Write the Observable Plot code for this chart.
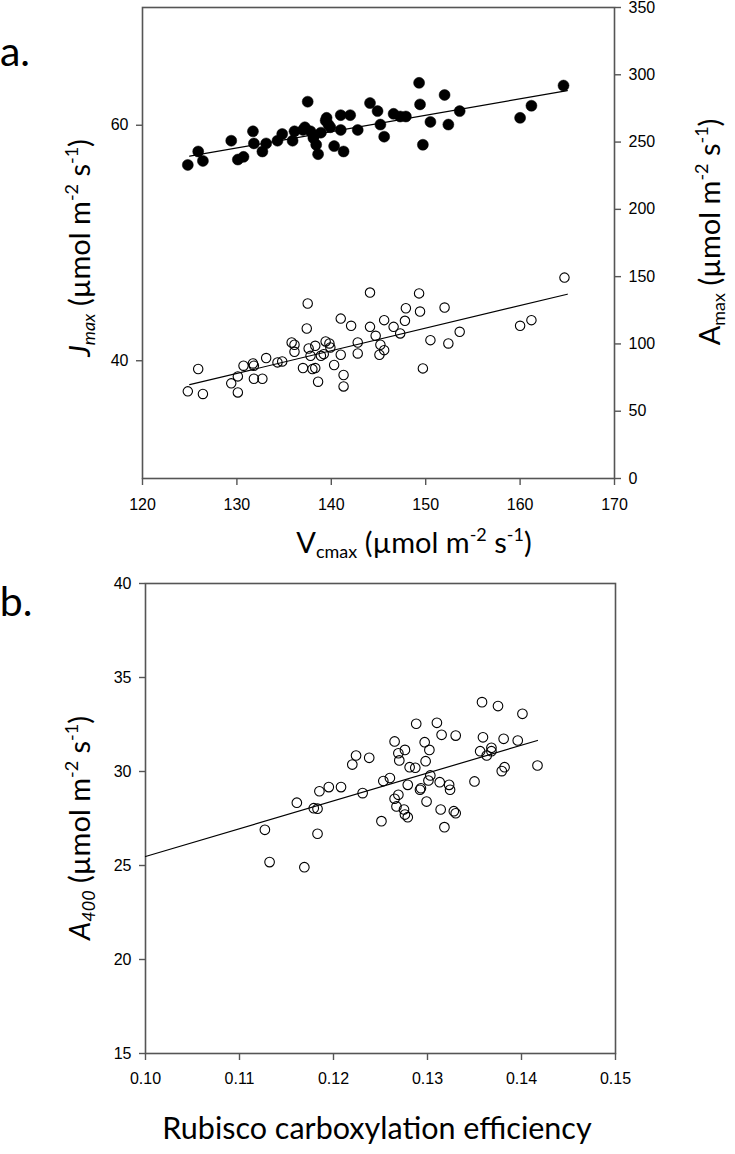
<!DOCTYPE html>
<html>
<head>
<meta charset="utf-8">
<script src="https://cdn.jsdelivr.net/npm/d3@7"></script>
<script src="https://cdn.jsdelivr.net/npm/@observablehq/plot@0.6"></script>
<style>
  body { margin: 0; background: #fff; }
  #wrap { position: relative; width: 735px; height: 1154px; overflow: hidden; background: #fff; }
  #wrap svg { position: absolute; left: 0; }
  .lab { position: absolute; white-space: nowrap; line-height: 1; color: #000;
         font-family: Lato, "Open Sans", "DejaVu Sans", sans-serif; }
  .sup { font-size: 0.62em; vertical-align: 0.62em; line-height: 0; }
  .sub { font-size: 0.62em; vertical-align: -0.28em; line-height: 0; }
</style>
</head>
<body>
<div id="wrap"></div>
<script>
// ---------- Panel a: Vcmax vs Amax (filled, right axis) ----------
const vcmaxFilled = [124.8,125.9,126.4,129.4,130.1,130.7,131.7,131.8,132.7,133.1,134.3,134.8,135.9,136.1,137.0,137.2,137.5,137.8,138.1,138.2,138.4,138.6,138.9,139.4,139.5,139.7,139.9,140.3,141.0,141.0,141.3,142.0,142.8,144.1,144.9,145.2,145.6,146.6,147.3,147.9,149.3,149.4,149.7,150.5,152.0,152.4,153.6,160.0,161.2,164.6];
const amaxFilled  = [233,243,236,251,237,239,258,249,243,249,251,256,251,258,259,261,280,258,253,255,248,241,257,266,268,263,261,247,270,259,243,270,259,279,273,263,254,271,269,269,294,278,248,265,285,263,273,268,277,292];
// fitted line of the filled series (Vcmax, Amax)
const fitFilledX = [125.0, 165.0];
const fitFilledY = [239.5, 288.2];

// ---------- Panel a: Vcmax vs Jmax (open, left axis) ----------
const vcmaxOpen = [124.8,125.9,126.4,129.4,130.1,130.1,130.7,131.7,131.8,131.8,132.7,133.1,134.3,134.8,135.8,136.1,136.1,137.0,137.4,137.5,137.6,137.8,138.0,138.3,138.3,138.6,138.9,139.2,139.4,139.8,139.9,140.3,141.0,141.0,141.3,141.3,142.1,142.8,142.8,144.1,144.1,144.7,145.1,145.2,145.6,145.6,146.6,147.3,147.8,147.9,149.3,149.4,149.7,150.5,152.0,152.4,153.6,160.0,161.2,164.7];
const jmaxOpen  = [37.40,39.30,37.18,38.08,38.67,37.31,39.58,39.77,39.58,38.47,38.47,40.23,39.86,39.94,41.55,41.36,40.76,39.38,42.74,44.86,41.04,40.42,39.29,41.27,39.38,38.22,40.42,40.56,41.64,41.47,41.13,39.64,43.58,40.51,38.79,37.82,42.97,41.55,40.62,45.79,42.88,42.12,40.51,41.36,40.90,43.45,42.88,42.32,43.39,44.46,45.72,44.18,39.35,41.75,44.52,41.47,42.46,42.97,43.45,47.06];
// fitted line of the open series (Vcmax, Jmax)
const fitOpenX = [125.0, 165.0];
const fitOpenY = [37.97, 45.65];

// ---------- Panel b: Rubisco carboxylation efficiency vs A400 ----------
const rce  = [0.1127,0.1132,0.1161,0.1169,0.1179,0.1183,0.1183,0.1185,0.1195,0.1208,0.1220,0.1224,0.1231,0.1238,0.1251,0.1253,0.1260,0.1265,0.1265,0.1267,0.1269,0.1269,0.1270,0.1275,0.1276,0.1276,0.1279,0.1279,0.1281,0.1287,0.1288,0.1292,0.1293,0.1297,0.1298,0.1299,0.1301,0.1302,0.1303,0.1310,0.1313,0.1314,0.1315,0.1318,0.1323,0.1324,0.1328,0.1330,0.1330,0.1350,0.1356,0.1358,0.1359,0.1363,0.1368,0.1368,0.1375,0.1379,0.1381,0.1382,0.1396,0.1401,0.1417];
const a400 = [26.90,25.18,28.34,24.91,28.05,28.02,26.69,28.95,29.17,29.17,30.37,30.85,28.85,30.73,27.36,29.49,29.65,31.60,28.55,28.14,30.97,28.76,30.59,27.98,31.15,27.71,29.29,27.57,30.23,30.20,32.54,29.03,29.11,31.56,30.55,28.40,29.52,31.15,29.79,32.59,29.43,27.98,31.95,27.04,29.29,29.03,27.89,27.78,31.91,29.47,31.08,33.69,31.82,30.85,31.26,31.08,33.48,30.02,31.74,30.23,31.65,33.07,30.32];
// fitted line (RCE, A400)
const fitBX = [0.100, 0.1417];
const fitBY = [25.48, 31.65];

// ---------- Tick labels ----------
const vcmaxTicks = [120,130,140,150,160,170];
const jmaxTicks  = [40,60];
const jmaxDomain = [30,70];
const amaxTicks  = [0,50,100,150,200,250,300,350];
const amaxDomain = [0,350];
const rceTicks   = [0.10,0.11,0.12,0.13,0.14,0.15];
const a400Ticks  = [15,20,25,30,35,40];

// map Amax (right axis) into Jmax (left axis) units
const toLeft = a => jmaxDomain[0] + (a - amaxDomain[0]) * (jmaxDomain[1]-jmaxDomain[0]) / (amaxDomain[1]-amaxDomain[0]);
const fromLeft = y => amaxDomain[0] + (y - jmaxDomain[0]) * (amaxDomain[1]-amaxDomain[0]) / (jmaxDomain[1]-jmaxDomain[0]);

const filledData = vcmaxFilled.map((x, i) => ({x, y: toLeft(amaxFilled[i])}));
const openData   = vcmaxOpen.map((x, i) => ({x, y: jmaxOpen[i]}));
const bData      = rce.map((x, i) => ({x, y: a400[i]}));
const fitFilled  = fitFilledX.map((x, i) => ({x, y: toLeft(fitFilledY[i])}));
const fitOpen    = fitOpenX.map((x, i) => ({x, y: fitOpenY[i]}));
const fitB       = fitBX.map((x, i) => ({x, y: fitBY[i]}));

const axisColor = "#555";
const tickStyle = {fontFamily: "'Liberation Sans', Arial, sans-serif", fontSize: "16px", color: "#000", background: "transparent", overflow: "visible"};

const chartA = Plot.plot({
  width: 735, height: 570,
  marginLeft: 142, marginRight: 121, marginTop: 7, marginBottom: 92,
  style: tickStyle,
  x: {domain: [vcmaxTicks[0], vcmaxTicks[vcmaxTicks.length-1]]},
  y: {domain: jmaxDomain},
  marks: [
    Plot.frame({stroke: axisColor, strokeWidth: 1.6}),
    Plot.axisX(vcmaxTicks, {tickSize: 7, tickPadding: 13, label: null, stroke: axisColor, strokeWidth: 1.4, fill: "#000"}),
    Plot.axisY(jmaxTicks, {tickSize: 6, tickPadding: 8, label: null, stroke: axisColor, strokeWidth: 1.4, fill: "#000"}),
    Plot.axisY(amaxTicks.map(toLeft), {anchor: "right", tickSize: 6, tickPadding: 8, label: null,
      tickFormat: d => String(Math.round(fromLeft(d))), stroke: axisColor, strokeWidth: 1.4, fill: "#000"}),
    Plot.line(fitOpen, {x: "x", y: "y", stroke: "#000", strokeWidth: 1.2}),
    Plot.line(fitFilled, {x: "x", y: "y", stroke: "#000", strokeWidth: 1.2}),
    Plot.dot(openData, {x: "x", y: "y", r: 4.7, stroke: "#000", strokeWidth: 1.1, fill: "none"}),
    Plot.dot(filledData, {x: "x", y: "y", r: 5.5, fill: "#000", stroke: "#000", strokeWidth: 0.5})
  ]
});

const chartB = Plot.plot({
  width: 735, height: 584,
  marginLeft: 145, marginRight: 120, marginTop: 13, marginBottom: 101,
  style: tickStyle,
  x: {domain: [rceTicks[0], rceTicks[rceTicks.length-1]]},
  y: {domain: [a400Ticks[0], a400Ticks[a400Ticks.length-1]]},
  marks: [
    Plot.frame({stroke: axisColor, strokeWidth: 1.6}),
    Plot.axisX(rceTicks, {tickSize: 7, tickPadding: 12, label: null, tickFormat: d => d.toFixed(2), stroke: axisColor, strokeWidth: 1.4, fill: "#000"}),
    Plot.axisY(a400Ticks, {tickSize: 6, tickPadding: 8, label: null, stroke: axisColor, strokeWidth: 1.4, fill: "#000"}),
    Plot.line(fitB, {x: "x", y: "y", stroke: "#000", strokeWidth: 1.2}),
    Plot.dot(bData, {x: "x", y: "y", r: 4.8, stroke: "#000", strokeWidth: 1.1, fill: "none"})
  ]
});

const wrap = document.getElementById("wrap");
chartA.style.top = "0px";
chartB.style.top = "570px";
wrap.appendChild(chartA);
wrap.appendChild(chartB);

// ---------- Text labels ----------
function label(html, cx, cy, fs, rotate) {
  const el = document.createElement("div");
  el.className = "lab";
  el.innerHTML = html;
  el.style.fontSize = fs + "px";
  el.style.left = cx + "px";
  el.style.top = cy + "px";
  el.style.transform = "translate(-50%,-50%)" + (rotate ? " rotate(-90deg)" : "");
  wrap.appendChild(el);
  return el;
}
const unit = ' (µmol m<span class="sup">-2</span> s<span class="sup">-1</span>)';
const titleFs = 29;
label('a.', 15, 50, 41, false);
label('b.', 16, 600, 41, false);
label('V<span class="sub">cmax</span>' + unit, 414, 541, titleFs, false);
label('<i>J<span class="sub">max</span></i>' + unit, 78, 248, titleFs, true);
label('A<span class="sub">max</span>' + unit, 708, 232, titleFs, true);
label('<i>A<span class="sub">400</span></i>' + unit, 78, 828, titleFs, true);
label('Rubisco carboxylation efficiency', 377, 1127, 30.5, false);
</script>
</body>
</html>
